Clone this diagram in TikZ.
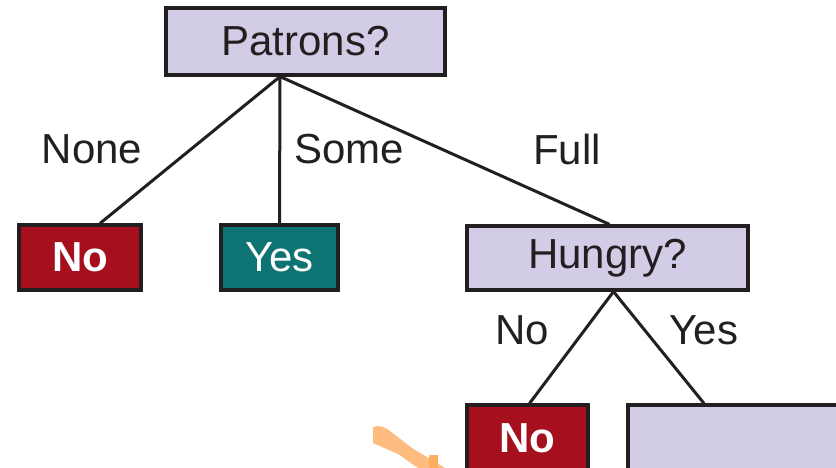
\documentclass[tikz,border=0pt]{standalone}
\usepackage{fontspec}
\setmainfont{Liberation Sans}
\definecolor{lav}{HTML}{D2CCE6}
\definecolor{nored}{HTML}{A60F1E}
\definecolor{yesteal}{HTML}{0E7373}
\definecolor{edge}{HTML}{231F20}
\definecolor{pen}{HTML}{FFBC80}
\definecolor{pendark}{HTML}{FFAE60}
\begin{document}
\begin{tikzpicture}[x=1pt,y=-1pt,
  box/.style={draw=edge,line width=3.2pt,inner sep=0pt,
    font=\fontsize{42}{48}\selectfont,text=edge},
  question/.style={box,fill=lav},
  leafno/.style={box,fill=nored,text=white,font=\fontsize{42}{48}\selectfont\bfseries},
  leafyes/.style={box,fill=yesteal,text=white},
  branch/.style={draw=edge,line width=3pt},
  lbl/.style={font=\fontsize{42}{48}\selectfont,text=edge,inner sep=0pt}]
\useasboundingbox (0,0) rectangle (836,468);
\clip (0,0) rectangle (836,468);

% decision nodes
\node[question,minimum width=279pt,minimum height=67pt] (patrons) at (305.5,41.5) {Patrons?};
\node[leafno,minimum width=122pt,minimum height=65pt] (none) at (80,257.5) {No};
\node[leafyes,minimum width=117pt,minimum height=65pt] (some) at (279.5,257.5) {Yes};
\node[question,minimum width=281pt,minimum height=64pt] (hungry) at (607.5,258) {Hungry?};
\node[leafno,minimum width=121pt,minimum height=66pt] (notHungry) at (527.5,438) {No};
\node[question,minimum width=284pt,minimum height=66pt] (next) at (770,438) {};

% attach points of the branches
\coordinate (pRoot) at ([xshift=-25.5pt]patrons.south);
\coordinate (hRoot) at ([xshift=6pt]hungry.south);

\draw[branch] (pRoot) -- ([xshift=20pt]none.north);
\draw[branch] (pRoot) -- (some.north);
\draw[branch] (pRoot) -- ([xshift=2pt]hungry.north);
\draw[branch] (hRoot) -- ([xshift=2pt]notHungry.north);
\draw[branch] (hRoot) -- ([xshift=-66pt]next.north);

% branch labels
\node[lbl] (lNone) at (92,149) {None};
\node[lbl] (lSome) at (349,149) {Some};
\node[lbl] (lFull) at (567,149) {Full};
\node[lbl] (lNo) at (522,330) {No};
\node[lbl] (lYes) at (704,330) {Yes};

% pen mark
\fill[pen] (373,427) .. controls (378,425) and (384,426) .. (390,431)
  -- (412,448) -- (445,468) -- (418,468) -- (398,454) -- (373,443) -- cycle;
\fill[pendark] (429,455) rectangle (438,468);
\end{tikzpicture}
\end{document}
